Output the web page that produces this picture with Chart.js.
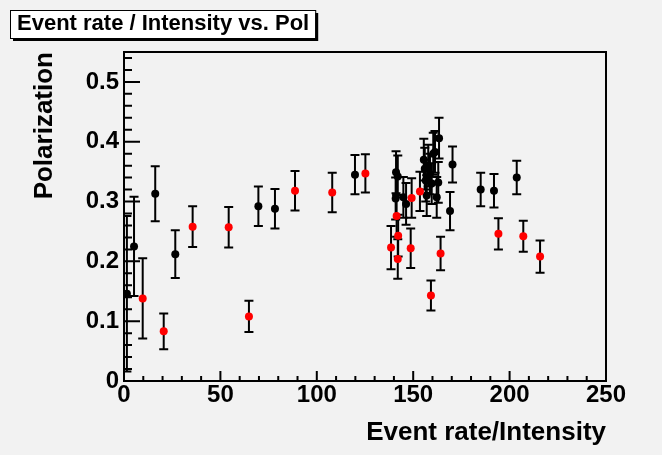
<!DOCTYPE html>
<html>
<head>
    <title>Event rate / Intensity vs. Pol</title>
    <script src="https://cdn.jsdelivr.net/npm/chart.js@4.4.0/dist/chart.umd.min.js"></script>
    <style>
        body {
            margin: 0;
            background: #f2f2f2;
        }
        canvas {
            display: block;
        }
    </style>
</head>
<body>
    <canvas id="polChart" width="662" height="455"></canvas>

    <script>
        const TITLE = 'Event rate / Intensity vs. Pol';
        const X_TITLE = 'Event rate/Intensity';
        const Y_TITLE = 'Polarization';

        const X_TICKS = [0, 50, 100, 150, 200, 250];
        const Y_TICKS = [0, 0.1, 0.2, 0.3, 0.4, 0.5];
        const X_MAX = 250;
        const Y_MAX = 0.55;

        // black graph
        const blackX   = [1.5, 5.2, 16.2, 26.6, 69.7, 78.3, 119.8, 140.9, 141.1, 142.0, 144.9, 146.3,
                          155.5, 156.0, 156.5, 157.0, 157.8, 158.7, 159.6, 160.4, 161.3, 162.2, 163.0, 163.4,
                          169.1, 170.4, 185.0, 191.9, 203.7];
        const blackY   = [0.146, 0.225, 0.313, 0.212, 0.292, 0.288, 0.345, 0.305, 0.349, 0.342, 0.307, 0.296,
                          0.370, 0.355, 0.335, 0.310, 0.360, 0.346, 0.330, 0.380, 0.383, 0.307, 0.332, 0.406,
                          0.284, 0.362, 0.320, 0.318, 0.340];
        const blackErr = [0.130, 0.083, 0.046, 0.040, 0.033, 0.033, 0.033, 0.035, 0.035, 0.035, 0.034, 0.035,
                          0.035, 0.035, 0.035, 0.034, 0.035, 0.034, 0.034, 0.035, 0.035, 0.034, 0.034, 0.034,
                          0.032, 0.030, 0.028, 0.028, 0.028];

        // red graph
        const redX   = [9.7, 20.6, 35.6, 54.3, 64.8, 88.7, 108.0, 125.2, 138.5, 141.4, 142.2, 142.0,
                        148.7, 149.2, 153.5, 159.2, 164.2, 194.2, 207.1, 215.8];
        const redY   = [0.138, 0.083, 0.258, 0.257, 0.108, 0.318, 0.315, 0.347, 0.223, 0.276, 0.243, 0.204,
                        0.222, 0.306, 0.317, 0.143, 0.213, 0.246, 0.242, 0.208];
        const redErr = [0.067, 0.030, 0.034, 0.034, 0.026, 0.033, 0.033, 0.032, 0.036, 0.035, 0.035, 0.033,
                        0.033, 0.033, 0.033, 0.025, 0.028, 0.026, 0.026, 0.027];

        const FONT = '"Liberation Sans", Arial, sans-serif';

        function toPoints(xs, ys, errs) {
            return xs.map((x, i) => ({ x: x, y: ys[i], err: errs[i] }));
        }

        // background + ROOT style title box
        const rootBox = {
            id: 'rootBox',
            beforeDraw(chart) {
                const ctx = chart.ctx;
                ctx.save();
                ctx.fillStyle = '#f2f2f2';
                ctx.fillRect(0, 0, chart.width, chart.height);

                ctx.font = 'bold 22px ' + FONT;
                const w = ctx.measureText(TITLE).width;
                const bx = chart.titleBlock.left - 7;
                const by = 10, bw = w + 13, bh = 28;
                ctx.fillStyle = '#000';
                ctx.fillRect(bx + 3, by + 3, bw, bh);
                ctx.fillStyle = '#ffffff';
                ctx.fillRect(bx, by, bw, bh);
                ctx.strokeStyle = '#000';
                ctx.lineWidth = 1;
                ctx.strokeRect(bx + 0.5, by + 0.5, bw, bh);
                ctx.restore();
            },
            beforeDatasetsDraw(chart) {
                // error bars with end caps
                const { ctx, chartArea: a, scales: { x, y } } = chart;
                ctx.save();
                ctx.beginPath();
                ctx.rect(a.left, a.top, a.right - a.left, a.bottom - a.top);
                ctx.clip();
                ctx.strokeStyle = '#000';
                ctx.lineWidth = 2;
                chart.data.datasets.forEach(ds => {
                    ds.data.forEach(p => {
                        const px = x.getPixelForValue(p.x);
                        const top = y.getPixelForValue(p.y + p.err);
                        const bot = y.getPixelForValue(p.y - p.err);
                        ctx.beginPath();
                        ctx.moveTo(px, top);
                        ctx.lineTo(px, bot);
                        ctx.moveTo(px - 4.5, top);
                        ctx.lineTo(px + 4.5, top);
                        ctx.moveTo(px - 4.5, bot);
                        ctx.lineTo(px + 4.5, bot);
                        ctx.stroke();
                    });
                });
                ctx.restore();
            },
            afterDatasetsDraw(chart) {
                // frame and inward ticks
                const { ctx, chartArea: a, scales: { x, y } } = chart;
                ctx.save();
                ctx.strokeStyle = '#000';
                ctx.lineWidth = 2;
                ctx.strokeRect(a.left, a.top, a.right - a.left, a.bottom - a.top);
                ctx.beginPath();
                const xStep = (X_TICKS[1] - X_TICKS[0]) / 5;
                for (let i = 0; i * xStep <= X_MAX + 1e-9; i++) {
                    const p = x.getPixelForValue(i * xStep);
                    const len = i % 5 === 0 ? 10 : 5;
                    ctx.moveTo(p, a.bottom);
                    ctx.lineTo(p, a.bottom - len);
                }
                const yStep = (Y_TICKS[1] - Y_TICKS[0]) / 5;
                for (let i = 0; i * yStep <= Y_MAX + 1e-9; i++) {
                    const p = y.getPixelForValue(i * yStep);
                    const len = i % 5 === 0 ? 16 : 8;
                    ctx.moveTo(a.left, p);
                    ctx.lineTo(a.left + len, p);
                }
                ctx.stroke();
                ctx.restore();
            }
        };

        const ctx = document.getElementById('polChart').getContext('2d');
        const polChart = new Chart(ctx, {
            type: 'scatter',
            data: {
                datasets: [
                    { label: 'black', data: toPoints(blackX, blackY, blackErr), backgroundColor: '#000', pointRadius: 4, pointBorderWidth: 0, order: 2 },
                    { label: 'red', data: toPoints(redX, redY, redErr), backgroundColor: '#ff0000', pointRadius: 4, pointBorderWidth: 0, order: 1 }
                ]
            },
            options: {
                responsive: false,
                animation: false,
                devicePixelRatio: 1,
                layout: { padding: { left: 17, right: 56, top: 0, bottom: 0 } },
                plugins: {
                    legend: { display: false },
                    tooltip: { enabled: false },
                    title: {
                        display: true, text: TITLE, align: 'start', color: '#000',
                        font: { family: FONT, size: 22, weight: 'bold' },
                        padding: { top: 10.8, bottom: 14.8 }
                    }
                },
                scales: {
                    x: {
                        type: 'linear', min: 0, max: X_MAX,
                        afterBuildTicks: s => { s.ticks = X_TICKS.map(v => ({ value: v })); },
                        afterFit: s => { s.height = 74; },
                        grid: { display: false, drawTicks: false },
                        border: { display: false },
                        ticks: {
                            color: '#000', padding: 0, maxRotation: 0, autoSkip: false,
                            font: { family: FONT, size: 24, weight: 'bold' },
                            callback: v => String(v)
                        },
                        title: {
                            display: true, text: X_TITLE, align: 'end', color: '#000',
                            font: { family: FONT, size: 26, weight: 'bold' },
                            padding: { top: 0, bottom: 6.4 }
                        }
                    },
                    y: {
                        type: 'linear', min: 0, max: Y_MAX,
                        afterBuildTicks: s => { s.ticks = Y_TICKS.map(v => ({ value: v })); },
                        afterFit: s => { s.width = 107; },
                        grid: { display: false, drawTicks: false },
                        border: { display: false },
                        ticks: {
                            color: '#000', padding: 5, autoSkip: false,
                            font: { family: FONT, size: 24, weight: 'bold' },
                            callback: v => String(+v.toFixed(2))
                        },
                        title: {
                            display: true, text: Y_TITLE, align: 'end', color: '#000',
                            font: { family: FONT, size: 26, weight: 'bold' },
                            padding: { top: 12.4, bottom: 0 }
                        }
                    }
                }
            },
            plugins: [rootBox]
        });
    </script>
</body>
</html>
